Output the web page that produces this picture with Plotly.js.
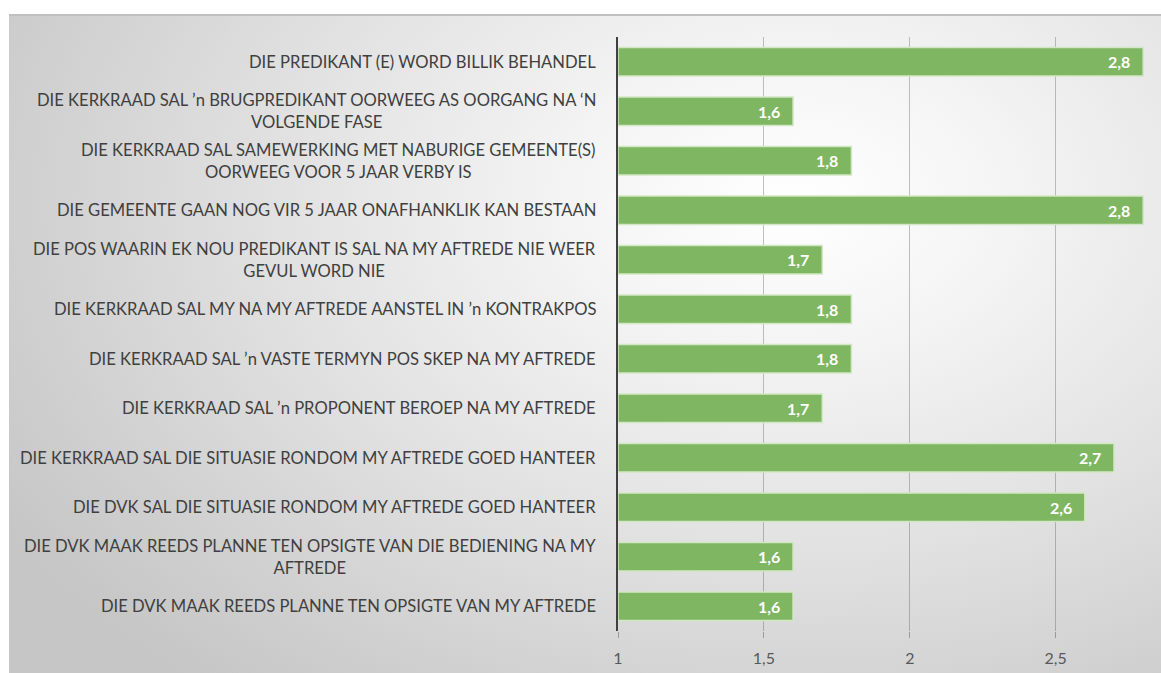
<!DOCTYPE html>
<html>
<head>
<meta charset="utf-8">
<script src="https://cdn.plot.ly/plotly-3.0.1.min.js"></script>
<style>
  html, body { margin: 0; padding: 0; background: #ffffff; }
  #wrap { position: relative; width: 1161px; height: 673px; overflow: hidden; }
  #bg { position: absolute; left: 9px; top: 14px; width: 1152px; height: 659px;
        border-top: 2px solid #c0c0c0;
        background: radial-gradient(ellipse 80% 95% at 68% 28%, #ffffff 0%, #f5f5f5 22%, #e2e2e2 55%, #cfcfcf 85%, #c6c6c6 100%); }
  #chart { position: absolute; left: 0; top: 0; width: 1161px; height: 673px; }
</style>
</head>
<body>
<div id="wrap"><div id="bg"></div><div id="chart"></div></div>
<script>
const categories = [
  "DIE PREDIKANT (E) WORD BILLIK BEHANDEL",
  "DIE KERKRAAD SAL \u2019n BRUGPREDIKANT OORWEEG AS OORGANG NA \u2018N<br>VOLGENDE FASE",
  "DIE KERKRAAD SAL SAMEWERKING MET NABURIGE GEMEENTE(S)<br>OORWEEG VOOR 5 JAAR VERBY IS",
  "DIE GEMEENTE GAAN NOG VIR 5 JAAR ONAFHANKLIK KAN BESTAAN",
  "DIE POS WAARIN EK NOU PREDIKANT IS SAL NA MY AFTREDE NIE WEER<br>GEVUL WORD NIE",
  "DIE KERKRAAD SAL MY NA MY AFTREDE AANSTEL IN \u2019n KONTRAKPOS",
  "DIE KERKRAAD SAL \u2019n VASTE TERMYN POS SKEP NA MY AFTREDE",
  "DIE KERKRAAD SAL \u2019n PROPONENT BEROEP NA MY AFTREDE",
  "DIE KERKRAAD SAL DIE SITUASIE RONDOM MY AFTREDE GOED HANTEER",
  "DIE DVK SAL DIE SITUASIE RONDOM MY AFTREDE GOED HANTEER",
  "DIE DVK MAAK REEDS PLANNE TEN OPSIGTE VAN DIE BEDIENING NA MY<br>AFTREDE",
  "DIE DVK MAAK REEDS PLANNE TEN OPSIGTE VAN MY AFTREDE"
];
const values = [2.8, 1.6, 1.8, 2.8, 1.7, 1.8, 1.8, 1.7, 2.7, 2.6, 1.6, 1.6];
const tickValues = [1, 1.5, 2, 2.5];
const tickLabels = ["1", "1,5", "2", "2,5"];
const axisBase = 1;

const labelFont = "Lato, 'Open Sans', sans-serif";

const trace = {
  type: "bar",
  orientation: "h",
  x: values.map(v => v - axisBase),
  base: axisBase,
  y: categories,
  marker: { color: "#7fb662", line: { color: "#d2e8c4", width: 1.5 } },
  hoverinfo: "skip"
};

const annotations = [];
categories.forEach((c, i) => {
  annotations.push({
    xref: "paper", yref: "y", x: 0, y: c, xanchor: "right", yanchor: "middle",
    xshift: -20, text: c, showarrow: false, align: "center",
    font: { family: labelFont, size: 16.6, color: "#404040" }
  });
  annotations.push({
    xref: "x", yref: "y", x: values[i], y: c, xanchor: "right", yanchor: "middle",
    xshift: -11, text: values[i].toFixed(1).replace(".", ","), showarrow: false,
    font: { family: labelFont, size: 16, color: "#ffffff", weight: "bold" }
  });
});

const layout = {
  width: 1161, height: 673,
  paper_bgcolor: "rgba(0,0,0,0)", plot_bgcolor: "rgba(0,0,0,0)",
  margin: { l: 617.5, r: 0, t: 37, b: 42 },
  separators: ",.",
  showlegend: false,
  bargap: 0.42,
  xaxis: {
    range: [1, 2.861],
    tickvals: tickValues, ticktext: tickLabels,
    showgrid: true, gridcolor: "rgba(80,80,80,0.35)", gridwidth: 1,
    zeroline: false, showline: false,
    ticks: "outside", ticklen: 6, tickcolor: "rgba(80,80,80,0.45)",
    ticklabelstandoff: 7,
    tickfont: { family: labelFont, size: 16, color: "#595959" },
    fixedrange: true
  },
  yaxis: {
    type: "category", autorange: "reversed",
    showticklabels: false, ticks: "",
    showgrid: false, zeroline: false,
    showline: true, linecolor: "#404040", linewidth: 2.5,
    fixedrange: true
  },
  annotations: annotations
};

Plotly.newPlot("chart", [trace], layout, { displayModeBar: false, staticPlot: true });
</script>
</body>
</html>
